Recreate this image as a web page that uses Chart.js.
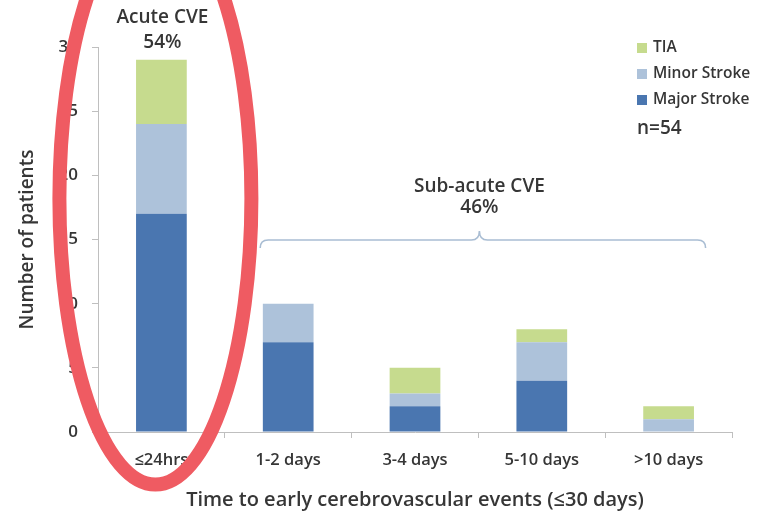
<!DOCTYPE html>
<html>
<head>
<meta charset="utf-8">
<script src="https://cdn.jsdelivr.net/npm/chart.js@4/dist/chart.umd.min.js"></script>
<style>
  html, body { margin: 0; padding: 0; background: #fff; }
  #wrap { width: 758px; height: 512px; position: relative; }
</style>
</head>
<body>
<div id="wrap"><canvas id="c" width="758" height="512"></canvas></div>
<script>
// Time windows after the index event
const categories = ['≤24hrs', '1-2 days', '3-4 days', '5-10 days', '>10 days'];
// Patients per event type in each window (n=54)
const majorStroke = [17, 7, 2, 4, 0];
const minorStroke = [7, 3, 1, 3, 1];
const tia = [5, 0, 2, 1, 1];
const yTicks = [0, 5, 10, 15, 20, 25, 30];

const FONT = '"Open Sans", "DejaVu Sans", sans-serif';
const TEXT = '#363636';

const overlay = {
  id: 'overlay',
  afterDraw(chart) {
    const ctx = chart.ctx;
    const x = chart.scales.x, y = chart.scales.y;
    ctx.save();

    // group captions
    ctx.fillStyle = TEXT;
    ctx.textAlign = 'center';
    ctx.textBaseline = 'middle';
    ctx.font = '600 19px ' + FONT;
    const ax = x.getPixelForValue(0) + 1;
    ctx.fillText('Acute CVE', ax, 18);
    ctx.fillText('54%', ax, 43);

    const sx = (x.getPixelForValue(1) + x.getPixelForValue(4)) / 2 + 1;
    ctx.fillText('Sub-acute CVE', sx, 187);
    ctx.fillText('46%', sx, 208);

    // curly brace spanning the sub-acute windows
    const bl = x.getPixelForValue(1) - 28, br = x.getPixelForValue(4) + 37;
    const by = 240, tipY = 231, r = 8;
    ctx.strokeStyle = '#a9bdd3';
    ctx.lineWidth = 1.6;
    ctx.beginPath();
    ctx.moveTo(bl, by + 8);
    ctx.quadraticCurveTo(bl, by, bl + r, by);
    ctx.lineTo(sx - r, by);
    ctx.quadraticCurveTo(sx, by, sx, tipY);
    ctx.quadraticCurveTo(sx, by, sx + r, by);
    ctx.lineTo(br - r, by);
    ctx.quadraticCurveTo(br, by, br, by + 8);
    ctx.stroke();

    // legend (top to bottom: TIA, Minor, Major)
    const items = [...chart.data.datasets].reverse();
    ctx.textAlign = 'left';
    ctx.font = '600 15.5px ' + FONT;
    items.forEach((ds, i) => {
      const ly = 48 + i * 26;
      ctx.fillStyle = ds.backgroundColor;
      ctx.fillRect(637, ly - 5, 10, 10);
      ctx.fillStyle = TEXT;
      ctx.fillText(ds.label, 653, ly);
    });
    ctx.font = '600 19px ' + FONT;
    ctx.fillText('n=54', 637, 129);

    // highlight ring around the acute window
    const cx = x.getPixelForValue(0) - 6;
    const cy = y.getPixelForValue(18.2);
    const ry = y.getPixelForValue(-4.1) - cy;
    ctx.strokeStyle = '#ef5b62';
    ctx.lineWidth = 14;
    ctx.beginPath();
    ctx.ellipse(cx, cy, 96, ry, 0, 0, Math.PI * 2);
    ctx.stroke();

    ctx.restore();
  }
};

new Chart(document.getElementById('c'), {
  type: 'bar',
  data: {
    labels: categories,
    datasets: [
      { label: 'Major Stroke', data: majorStroke, backgroundColor: '#4a76b0' },
      { label: 'Minor Stroke', data: minorStroke, backgroundColor: '#adc2da' },
      { label: 'TIA', data: tia, backgroundColor: '#c6db8e' }
    ]
  },
  options: {
    responsive: false,
    animation: false,
    devicePixelRatio: 1,
    layout: { padding: { top: 47, right: 26, left: 0, bottom: 0 } },
    datasets: { bar: { categoryPercentage: 0.4, barPercentage: 1.0 } },
    plugins: { legend: { display: false }, tooltip: { enabled: false } },
    scales: {
      x: {
        stacked: true,
        afterFit(s) { s.height = 80; },
        border: { color: '#bfbfbf', width: 1 },
        grid: { display: true, drawOnChartArea: false, offset: true, tickLength: 6, color: '#bfbfbf' },
        ticks: { color: TEXT, font: { family: FONT, size: 16.5, weight: '600' }, padding: 12 },
        title: { display: true, text: 'Time to early cerebrovascular events (≤30 days)', color: TEXT, font: { family: FONT, size: 20, weight: '600' }, padding: { top: 8, bottom: 0 } }
      },
      y: {
        stacked: true,
        min: 0, max: 30,
        afterFit(s) { s.width = 98; },
        afterBuildTicks(s) { s.ticks = yTicks.map(v => ({ value: v })); },
        border: { color: '#bfbfbf', width: 1 },
        grid: { display: true, drawOnChartArea: false, tickLength: 6, color: '#bfbfbf' },
        ticks: { color: TEXT, font: { family: FONT, size: 17, weight: '600' }, padding: 14 },
        title: { display: true, text: 'Number of patients', color: TEXT, font: { family: FONT, size: 19, weight: '600' }, padding: { top: 16, bottom: 0 } }
      }
    }
  },
  plugins: [overlay]
});
</script>
</body>
</html>
